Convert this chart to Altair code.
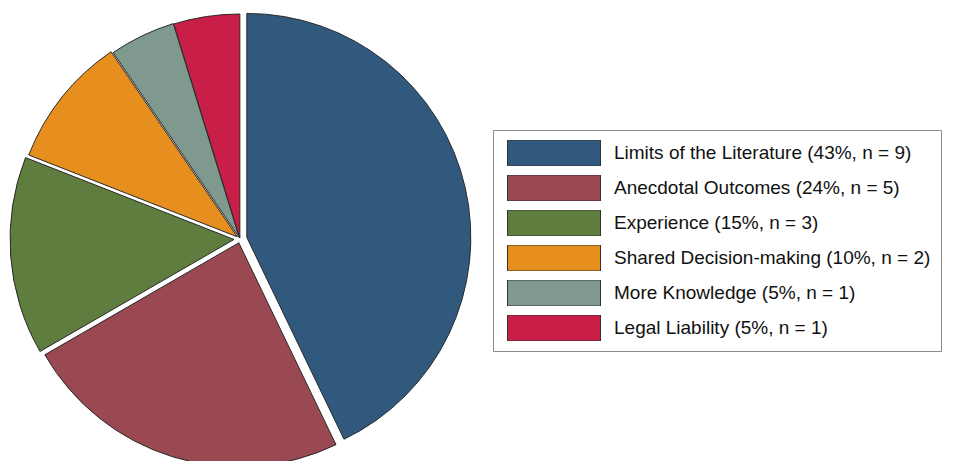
import altair as alt
import pandas as pd

categories = ["Limits of the Literature", "Anecdotal Outcomes", "Experience",
              "Shared Decision-making", "More Knowledge", "Legal Liability"]
counts = [9, 5, 3, 2, 1, 1]
percents = [43, 24, 15, 10, 5, 5]
colors = ["#31597d", "#9a4851", "#5f7d3f", "#e68f1f", "#7f998f", "#c81e48"]

labels = [f"{c} ({p}%, n = {n})" for c, p, n in zip(categories, percents, counts)]
df = pd.DataFrame({"idx": list(range(len(labels))), "label": labels, "n": counts})

# style constants
CX, CY, R = 232, 231, 224
EXPLODE = [7, 4, 6, 3.5, 1.5, 1]

chart = (
    alt.Chart(df)
    .transform_joinaggregate(total="sum(n)")
    .transform_window(cum="sum(n)", sort=[alt.SortField("idx")], frame=[None, 0])
    .transform_calculate(
        mid="(datum.cum - datum.n/2)/datum.total*2*PI",
        d=f"{EXPLODE}[datum.idx]",
    )
    .transform_calculate(
        cx=f"{CX} + datum.d*sin(datum.mid)",
        cy=f"{CY} - datum.d*cos(datum.mid)",
    )
    .mark_arc(radius=R, stroke="#2a2a2a", strokeWidth=1)
    .encode(
        theta=alt.Theta("n:Q", stack=True),
        order=alt.Order("idx:Q"),
        color=alt.Color(
            "label:N",
            scale=alt.Scale(domain=labels, range=colors),
            sort=labels,
            legend=alt.Legend(
                title=None,
                orient="none",
                legendX=485,
                legendY=122,
                symbolType="M-1,-0.28L1,-0.28L1,0.28L-1,0.28Z",
                symbolSize=8649,
                clipHeight=26,
                rowPadding=9,
                symbolOffset=4,
                labelOffset=13,
                labelFont="Liberation Sans",
                labelFontSize=19,
                labelColor="#111111",
                labelLimit=600,
                padding=10,
                strokeColor="#8a8a8a",
                fillColor="white",
                symbolStrokeColor="#333333",
                symbolStrokeWidth=1,
                symbolOpacity=1,
            ),
        ),
        x=alt.X("cx:Q", scale=None),
        y=alt.Y("cy:Q", scale=None),
    )
    .properties(width=954, height=453, autosize="none", padding=0)
    .configure_view(stroke=None)
)

chart.save("out.html", embed_options={"renderer": "svg", "actions": False})
